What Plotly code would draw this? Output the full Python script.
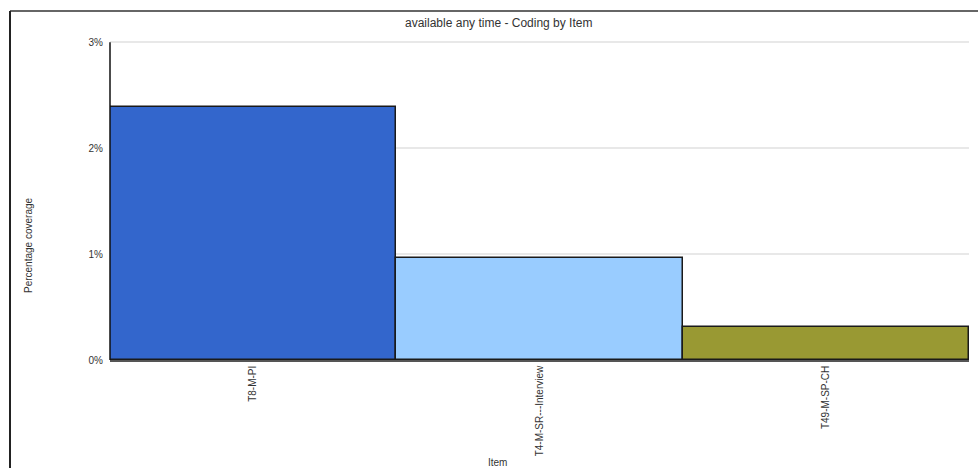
import plotly.graph_objects as go

categories = ["T8-M-PI", "T4-M-SR---Interview", "T49-M-SP-CH"]
coverage = [2.39, 0.96, 0.31]
bar_colors = ["#3366CC", "#99CCFF", "#999933"]
y_tickvals = [0, 1, 2, 3]
y_ticktext = ["0%", "1%", "2%", "3%"]
y_max = 3.03

W, H = 978, 468
L, R, T, B = 110, 9, 39, 108
pw, ph = W - L - R, H - T - B

def px_x(x):
    return (x - L) / pw

def px_y(y):
    return (H - B - y) / ph

fig = go.Figure(go.Bar(
    x=categories, y=coverage,
    marker=dict(color=bar_colors, line=dict(color="#1a1a1a", width=1.5)),
    hoverinfo="x+y",
))

fig.update_layout(
    width=W, height=H,
    margin=dict(l=L, r=R, t=T, b=B),
    paper_bgcolor="white", plot_bgcolor="white",
    bargap=0, showlegend=False,
    font=dict(family="Liberation Sans, Arial, sans-serif", color="#333333"),
    xaxis=dict(
        tickangle=-90, tickfont=dict(size=10, color="#333333"),
        showline=True, linecolor="#555555", linewidth=1.5,
        ticks="", showgrid=False,
    ),
    yaxis=dict(
        range=[0, y_max], tickvals=y_tickvals, ticktext=y_ticktext,
        tickfont=dict(size=10, color="#333333", family="Liberation Sans, Arial, sans-serif"),
        showline=False,
        showgrid=True, gridcolor="#e8e8e8", gridwidth=2,
        ticks="", ticklabelstandoff=6, zeroline=False,
    ),
    annotations=[
        dict(text="available any time - Coding by Item", x=px_x(498), y=px_y(23),
             xref="paper", yref="paper", showarrow=False,
             font=dict(size=12, color="#333333"), xanchor="center", yanchor="middle"),
        dict(text="Percentage coverage", x=px_x(28), y=px_y(245),
             xref="paper", yref="paper", showarrow=False, textangle=-90,
             font=dict(size=10, color="#333333", family="Liberation Sans Narrow, Arial Narrow, Liberation Sans, sans-serif"),
             xanchor="center", yanchor="middle"),
        dict(text="Item", x=px_x(497), y=px_y(462),
             xref="paper", yref="paper", showarrow=False,
             font=dict(size=10, color="#333333"), xanchor="center", yanchor="middle"),
    ],
    shapes=[
        dict(type="line", xref="paper", yref="paper",
             x0=px_x(10), x1=px_x(978), y0=px_y(11), y1=px_y(11),
             line=dict(color="#333333", width=1.5)),
        dict(type="line", xref="paper", yref="paper",
             x0=px_x(10), x1=px_x(10), y0=px_y(11), y1=px_y(468),
             line=dict(color="#222222", width=2)),
        dict(type="line", xref="paper", yref="y",
             x0=0, x1=0, y0=0, y1=y_tickvals[-1],
             line=dict(color="#111111", width=1.5), layer="above"),
    ],
)

fig.write_html(
    "out.html",
    config={"displayModeBar": False},
    post_script="document.body.style.margin='0';document.body.style.padding='0';",
)
